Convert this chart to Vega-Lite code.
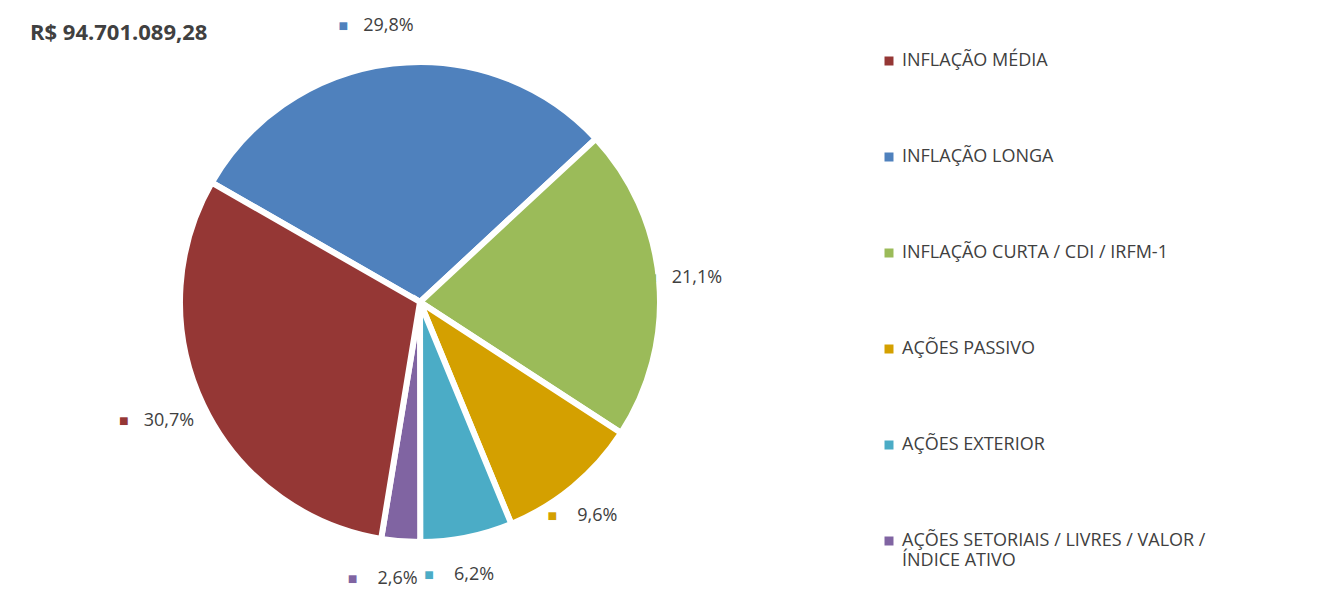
{
"$schema":"https://vega.github.io/schema/vega-lite/v6.json",
"width":840,"height":604,"padding":{"left":0,"top":0,"bottom":0,"right":482},"autosize":"none",
"background":"white",
"title":{"text":"R$ 94.701.089,28","anchor":"start","orient":"top","offset":-45,"dx":30,"fontSize":22,"font":"Open Sans","fontWeight":"bold","color":"#404040","frame":"bounds"},
"data":{"values":[
{"cat":"INFLAÇÃO LONGA","v":29.8,"o":1,"lbl":"29,8%"},
{"cat":"INFLAÇÃO CURTA / CDI / IRFM-1","v":21.1,"o":2,"lbl":"21,1%"},
{"cat":"AÇÕES PASSIVO","v":9.6,"o":3,"lbl":"9,6%"},
{"cat":"AÇÕES EXTERIOR","v":6.2,"o":4,"lbl":"6,2%"},
{"cat":"AÇÕES SETORIAIS / LIVRES / VALOR / ÍNDICE ATIVO","v":2.6,"o":5,"lbl":"2,6%"},
{"cat":"INFLAÇÃO MÉDIA","v":30.7,"o":6,"lbl":"30,7%"}
]},
"encoding":{
"theta":{"field":"v","type":"quantitative","stack":true,"scale":{"range":[-1.05,5.233]}},
"order":{"field":"o"},
"color":{"field":"cat","type":"nominal",
 "scale":{"domain":["INFLAÇÃO MÉDIA","INFLAÇÃO LONGA","INFLAÇÃO CURTA / CDI / IRFM-1","AÇÕES PASSIVO","AÇÕES EXTERIOR","AÇÕES SETORIAIS / LIVRES / VALOR / ÍNDICE ATIVO"],
 "range":["#953735","#4f81bd","#9bbb59","#d4a000","#4bacc6","#8064a2"]},
 "legend":{"title":null,"orient":"none","legendX":880,"legendY":52,"symbolType":"square","symbolSize":110,"labelFontSize":18,"labelFont":"Open Sans","labelColor":"#404040","rowPadding":78,"labelLimit":450,
 "labelExpr":"datum.label == 'AÇÕES SETORIAIS / LIVRES / VALOR / ÍNDICE ATIVO' ? ['AÇÕES SETORIAIS / LIVRES / VALOR /','ÍNDICE ATIVO'] : datum.label"}}
},
"layer":[
{"mark":{"type":"arc","outerRadius":240,"stroke":"white","strokeWidth":6}},
{"mark":{"type":"text","radius":278,"fontSize":18,"font":"Open Sans","color":"#404040"},
 "encoding":{"text":{"field":"lbl"},"color":{"value":"#404040"}}},
{"mark":{"type":"text","radius":278,"dx":-45,"fontSize":16,"text":"■"}}
]
}
